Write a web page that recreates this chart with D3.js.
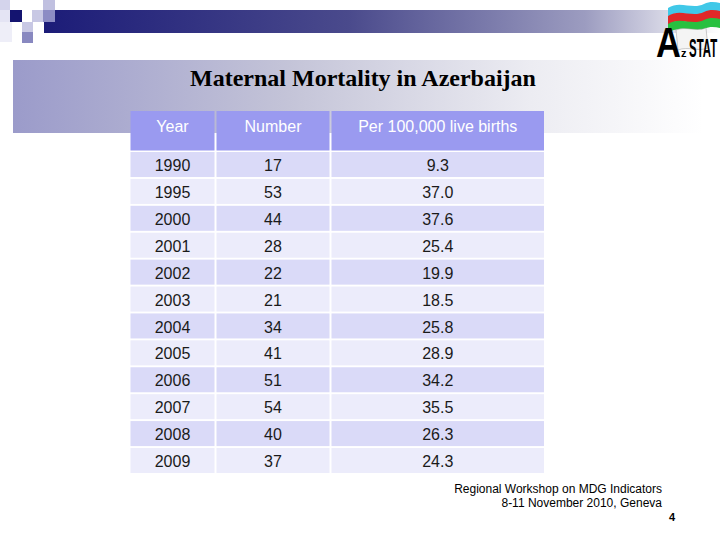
<!DOCTYPE html>
<html><head><meta charset="utf-8">
<script src="https://cdn.jsdelivr.net/npm/d3@7"></script>
<style>html,body{margin:0;padding:0;background:#fff;}svg{display:block;}</style>
</head><body>
<script>
const title = "Maternal Mortality in Azerbaijan";
const headers = ["Year", "Number", "Per 100,000 live births"];
const years = ["1990","1995","2000","2001","2002","2003","2004","2005","2006","2007","2008","2009"];
const numbers = ["17","53","44","28","22","21","34","41","51","54","40","37"];
const rates = ["9.3","37.0","37.6","25.4","19.9","18.5","25.8","28.9","34.2","35.5","26.3","24.3"];
const footer = ["Regional Workshop on MDG Indicators", "8-11 November 2010, Geneva"];
const pageNo = "4";

const W = 720, H = 540;
const svg = d3.select("body").append("svg").attr("width", W).attr("height", H);
const defs = svg.append("defs");

const g1 = defs.append("linearGradient").attr("id","topbar");
g1.append("stop").attr("offset","0%").attr("stop-color","#1c1c78");
g1.append("stop").attr("offset","45%").attr("stop-color","#4a4a8c");
g1.append("stop").attr("offset","80%").attr("stop-color","#9c9cc0");
g1.append("stop").attr("offset","100%").attr("stop-color","#ffffff");
const g2 = defs.append("linearGradient").attr("id","band");
g2.append("stop").attr("offset","0%").attr("stop-color","#9b9bca");
g2.append("stop").attr("offset","40%").attr("stop-color","#c4c4d8");
g2.append("stop").attr("offset","75%").attr("stop-color","#ececf2");
g2.append("stop").attr("offset","100%").attr("stop-color","#ffffff");

svg.append("rect").attr("x",44).attr("y",10).attr("width",676).attr("height",23).attr("fill","url(#topbar)");
const sq = [[0,0,10,10,"#d4d4ec"],[0,10,10,12,"#e4e4f4"],[10,10,12,12,"#141470"],[32,10,11,12,"#c8c8e4"],
            [43,0,12,10,"#c0c0e0"],[43,10,12,12,"#8c8cc4"],[22,22,11,10,"#c8c8e4"],[22,32,11,11,"#8888c0"],[0,22,12,20,"#eeeef8"]];
svg.selectAll("rect.sq").data(sq).join("rect").attr("class","sq")
  .attr("x",d=>d[0]).attr("y",d=>d[1]).attr("width",d=>d[2]).attr("height",d=>d[3]).attr("fill",d=>d[4]);

svg.append("rect").attr("x",13).attr("y",60).attr("width",690).attr("height",73).attr("fill","url(#band)");
svg.append("text").attr("x",363).attr("y",86).attr("text-anchor","middle")
  .attr("font-family","'Liberation Serif','Times New Roman',serif").attr("font-weight","bold")
  .attr("font-size",24).attr("fill","#000").text(title);

// logo
const logo = svg.append("g");
const flagCols = ["#40c8e8","#e02828","#28c040"];
flagCols.forEach((c,i)=>{
  const y0 = 4 + i*8;
  logo.append("path").attr("fill",c)
    .attr("d",`M668,${y0+4} C680,${y0-4} 692,${y0+6} 704,${y0} C710,${y0-3} 715,${y0-2} 720,${y0-1} L720,${y0+8} C715,${y0+7} 710,${y0+6} 704,${y0+9} C692,${y0+15} 680,${y0+4} 668,${y0+13} Z`);
});
logo.append("path").attr("fill","#f4f4f4").attr("stroke","#999").attr("stroke-width",0.5)
  .attr("d","M676,30 C686,26 696,32 706,28 L708,48 C698,52 688,46 678,50 Z");
const lf = "'Liberation Sans',Arial,sans-serif";
logo.append("text").attr("transform","translate(656,57) scale(0.82,1)").attr("font-family",lf)
  .attr("font-weight","bold").attr("font-size",42).attr("fill","#000").text("A");
logo.append("text").attr("x",681).attr("y",57).attr("font-family",lf)
  .attr("font-weight","bold").attr("font-size",11).attr("fill","#000").text("z");
logo.append("text").attr("transform","translate(689,57) scale(0.44,1)").attr("font-family",lf)
  .attr("font-weight","bold").attr("font-size",26).attr("fill","#000").text("STAT");

// table
const colEdges = [130.5, 216.5, 331.5, 546];
const gap = 2;
const x = d3.scaleOrdinal().domain([0,1,2]).range([colEdges[0], colEdges[1], colEdges[2]]);
const colW = i => colEdges[i+1] - colEdges[i] - gap;
const y = d3.scaleBand().domain(years).range([152, 473]).paddingInner(0.07).paddingOuter(0);

const font = "'Liberation Sans',Arial,sans-serif";
const hdr = svg.append("g");
headers.forEach((h,i)=>{
  hdr.append("rect").attr("x",x(i)).attr("y",111).attr("width",colW(i)).attr("height",39.5).attr("fill","#9a9af0");
  hdr.append("text").attr("x",x(i)+colW(i)/2).attr("y",126).attr("dy","0.35em").attr("text-anchor","middle")
    .attr("font-family",font).attr("font-size",16).attr("fill","#ffffff").text(h);
});

const rows = years.map((yr,k)=>({yr, cells:[yr, numbers[k], rates[k]], k}));
const rg = svg.selectAll("g.row").data(rows).join("g").attr("class","row");
rg.each(function(r){
  const g = d3.select(this);
  const fill = r.k % 2 === 0 ? "#dadaf8" : "#ececfb";
  r.cells.forEach((c,i)=>{
    g.append("rect").attr("x",x(i)).attr("y",y(r.yr)).attr("width",colW(i)).attr("height",y.bandwidth()).attr("fill",fill);
    g.append("text").attr("x",x(i)+colW(i)/2).attr("y",y(r.yr)+y.bandwidth()/2+1).attr("dy","0.35em")
      .attr("text-anchor","middle").attr("font-family",font).attr("font-size",16).attr("fill","#1a1a1a").text(c);
  });
});

svg.selectAll("text.foot").data(footer).join("text").attr("class","foot")
  .attr("x",662).attr("y",(d,i)=>493+i*14).attr("text-anchor","end")
  .attr("font-family",font).attr("font-size",12).attr("fill","#000").text(d=>d);
svg.append("text").attr("x",669).attr("y",521).attr("font-family",font).attr("font-weight","bold")
  .attr("font-size",11).attr("fill","#000").text(pageNo);
</script>
</body></html>
